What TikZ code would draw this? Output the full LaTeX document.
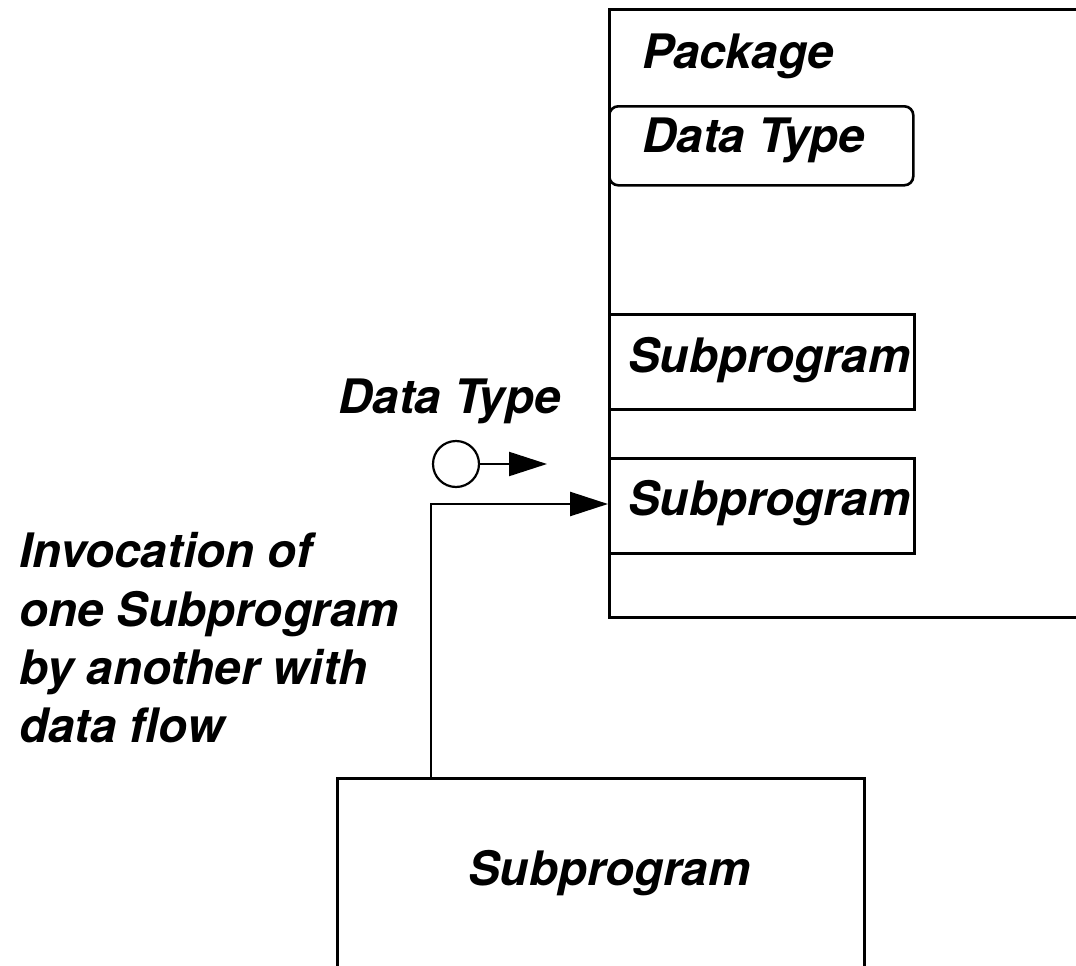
\documentclass[tikz,border=0pt]{standalone}
\usepackage{fontspec}
\setmainfont{TeX Gyre Heros}
\usetikzlibrary{arrows.meta}
\begin{document}
\begin{tikzpicture}[x=1pt,y=-1pt,
  line width=2.6pt,
  lbl/.style={inner sep=0pt,anchor=base west,font=\fontsize{47.5}{58}\selectfont\bfseries\itshape},
  box/.style={draw,inner sep=0pt},
  arr/.style={-{Triangle[length=38pt,width=24pt]}}]
\clip (0,0) rectangle (1076,966);
% package (open to the right edge)
\node[box,anchor=north west,minimum width=520pt,minimum height=608pt] (pkg) at (608,8) {};
\node[box,anchor=north west,rounded corners=9pt,minimum width=304pt,minimum height=79pt] (dt) at (608,105) {};
\node[box,anchor=north west,minimum width=305pt,minimum height=95pt] (sp1) at (608,313) {};
\node[box,anchor=north west,minimum width=305pt,minimum height=95pt] (sp2) at (608,457) {};
\node[box,anchor=north west,minimum width=527pt,minimum height=260pt] (sp3) at (336,777) {};
% labels
\node[lbl] (tpkg) at (641,68) {Package};
\node[lbl] (tdt) at (641,152) {Data Type};
\node[lbl] (tsp1) at (627,372) {Subprogram};
\node[lbl] (tsp2) at (627,515) {Subprogram};
\node[lbl] (tsp3) at (467,885) {Subprogram};
\node[lbl] (tdtl) at (337,413) {Data Type};
\node[lbl] (l1) at (18,567) {Invocation of};
\node[lbl] (l2) at (18,626) {one Subprogram};
\node[lbl] (l3) at (18,684) {by another with};
\node[lbl] (l4) at (18,742) {data flow};
% data flow token
\node[draw,circle,minimum size=46pt,inner sep=0pt,line width=2.2pt] (tok) at (456,464) {};
\coordinate (tokend) at (547,464);
\draw[arr,line width=2.2pt] (tok.east) -- (tokend);
% invocation
\coordinate (bend) at (431,504);
\draw[arr] (sp3.north west -| bend) -- (bend) -- (bend -| sp2.west);
\end{tikzpicture}
\end{document}
